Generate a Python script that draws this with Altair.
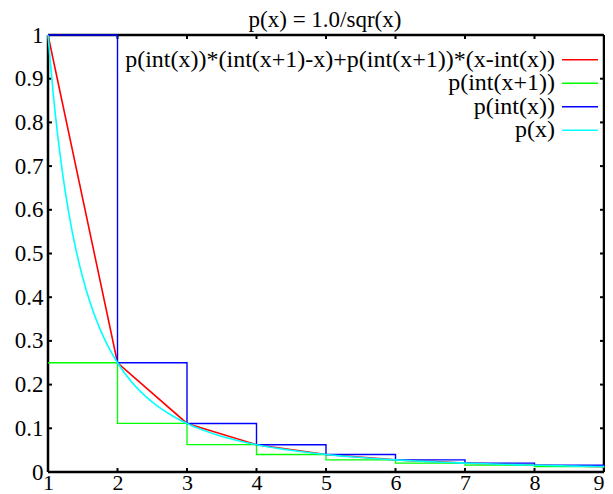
import altair as alt
import pandas as pd

# integer sample points and p(x) values
xs_int = [1, 2, 3, 4, 5, 6, 7, 8, 9]
p_int = [1.0, 0.25, 0.1111, 0.0625, 0.04, 0.0278, 0.0204, 0.0156, 0.0123]
p_int_next = [0.25, 0.1111, 0.0625, 0.04, 0.0278, 0.0204, 0.0156, 0.0123, 0.01]

# smooth curve samples
xs_curve = [1.0, 1.1, 1.2, 1.3, 1.4, 1.5, 1.6, 1.7, 1.8, 1.9, 2.0,
            2.2, 2.4, 2.6, 2.8, 3.0, 3.2, 3.4, 3.6, 3.8, 4.0,
            4.2, 4.4, 4.6, 4.8, 5.0, 5.2, 5.4, 5.6, 5.8, 6.0,
            6.2, 6.4, 6.6, 6.8, 7.0, 7.2, 7.4, 7.6, 7.8, 8.0,
            8.2, 8.4, 8.6, 8.8, 9.0]
p_curve = [1.0, 0.8264, 0.6944, 0.5917, 0.5102, 0.4444, 0.3906, 0.346, 0.3086, 0.277, 0.25,
           0.2066, 0.1736, 0.1479, 0.1276, 0.1111, 0.0977, 0.0865, 0.0772, 0.0693, 0.0625,
           0.0567, 0.0517, 0.0473, 0.0434, 0.04, 0.037, 0.0343, 0.0319, 0.0297, 0.0278,
           0.026, 0.0244, 0.023, 0.0216, 0.0204, 0.0193, 0.0183, 0.0173, 0.0164, 0.0156,
           0.0149, 0.0142, 0.0135, 0.0129, 0.0123]

x_ticks = [1, 2, 3, 4, 5, 6, 7, 8, 9]
y_ticks = [0, 0.1, 0.2, 0.3, 0.4, 0.5, 0.6, 0.7, 0.8, 0.9, 1]

legend_labels = ["p(int(x))*(int(x+1)-x)+p(int(x+1))*(x-int(x))",
                 "p(int(x+1))", "p(int(x))", "p(x)"]
legend_colors = ["#ff0000", "#00ff00", "#0000ff", "#00ffff"]

title_text = "p(x) = 1.0/sqr(x)"

FONT = "Liberation Serif"
FS = 23
W, H = 556, 437

xscale = alt.Scale(domain=[1, 9], nice=False, zero=False)
yscale = alt.Scale(domain=[0, 1], nice=False, zero=True)

df_int = pd.DataFrame({"x": xs_int, "p": p_int, "pn": p_int_next})
df_curve = pd.DataFrame({"x": xs_curve, "p": p_curve})

xax = alt.Axis(values=x_ticks, format="~g", ticks=False, domain=False, grid=False,
               labelFont=FONT, labelFontSize=22, labelColor="black", labelPadding=0,
               title=None, labelFlush=False,
               labelAlign={"condition": {"test": "datum.value >= 9", "value": "right"},
                           "value": "center"})
yax = alt.Axis(values=y_ticks, format="~g", ticks=False, domain=False, grid=False,
               labelFont=FONT, labelFontSize=FS, labelColor="black", labelPadding=5,
               title=None, labelFlush=False)

# frame (drawn first so the curves lie over it, as in gnuplot)
frame_df = pd.DataFrame({"k": [0]})
frame_layers = [
    alt.Chart(frame_df).mark_rule(color="black", strokeWidth=2.5).encode(
        x=alt.value(0), x2=alt.value(W), y=alt.value(0)),
    alt.Chart(frame_df).mark_rule(color="black", strokeWidth=2.5).encode(
        x=alt.value(0), x2=alt.value(W), y=alt.value(H)),
    alt.Chart(frame_df).mark_rule(color="black", strokeWidth=2.5).encode(
        y=alt.value(0), y2=alt.value(H), x=alt.value(0)),
    alt.Chart(frame_df).mark_rule(color="black", strokeWidth=2.5).encode(
        y=alt.value(0), y2=alt.value(H), x=alt.value(W)),
]

red = alt.Chart(df_int).mark_line(color=legend_colors[0], strokeWidth=1.6).encode(
    x=alt.X("x:Q", scale=xscale, axis=xax),
    y=alt.Y("p:Q", scale=yscale, axis=yax),
)
green = alt.Chart(df_int).mark_line(color=legend_colors[1], strokeWidth=1.3, interpolate="step-after").encode(
    x=alt.X("x:Q", scale=xscale), y=alt.Y("pn:Q", scale=yscale))
blue = alt.Chart(df_int).mark_line(color=legend_colors[2], strokeWidth=1.4, interpolate="step-after").encode(
    x=alt.X("x:Q", scale=xscale), y=alt.Y("p:Q", scale=yscale))
cyan = alt.Chart(df_curve).mark_line(color=legend_colors[3], strokeWidth=1.6, interpolate="monotone").encode(
    x=alt.X("x:Q", scale=xscale), y=alt.Y("p:Q", scale=yscale))

# inward ticks on all four sides
dxt = pd.DataFrame({"t": x_ticks})
dyt = pd.DataFrame({"t": y_ticks})
TL = 4
tick_layers = [
    alt.Chart(dxt).mark_rule(color="black", strokeWidth=2).encode(
        x=alt.X("t:Q", scale=xscale), y=alt.value(H), y2=alt.value(H - TL)),
    alt.Chart(dxt).mark_rule(color="black", strokeWidth=2).encode(
        x=alt.X("t:Q", scale=xscale), y=alt.value(0), y2=alt.value(TL)),
    alt.Chart(dyt).mark_rule(color="black", strokeWidth=2).encode(
        y=alt.Y("t:Q", scale=yscale), x=alt.value(0), x2=alt.value(TL)),
    alt.Chart(dyt).mark_rule(color="black", strokeWidth=2).encode(
        y=alt.Y("t:Q", scale=yscale), x=alt.value(W), x2=alt.value(W - TL)),
]

# title as text mark above the plot
title_layer = alt.Chart(pd.DataFrame({"t": [title_text]})).mark_text(
    align="center", baseline="alphabetic", font=FONT, fontSize=FS, color="black"
).encode(text="t:N", x=alt.value(W / 2 - 1), y=alt.value(-8))

# manual gnuplot-style legend (text left, sample line right)
legend_layers = []
for i, (lab, col) in enumerate(zip(legend_labels, legend_colors)):
    ly = 24.8 + 23.5 * i
    legend_layers.append(
        alt.Chart(pd.DataFrame({"label": [lab]})).mark_text(
            align="right", baseline="middle", font=FONT, fontSize=24, color="black"
        ).encode(text="label:N", x=alt.value(W - 49), y=alt.value(ly))
    )
    legend_layers.append(
        alt.Chart(pd.DataFrame({"label": [lab]})).mark_rule(color=col, strokeWidth=1.5).encode(
            x=alt.value(W - 42), x2=alt.value(W - 6), y=alt.value(ly))
    )

chart = alt.layer(*frame_layers, *tick_layers, red, green, blue, cyan,
                  title_layer, *legend_layers).properties(
    width=W, height=H,
    autosize=alt.AutoSizeParams(type="none"),
    padding={"left": 40, "top": 27, "right": 1, "bottom": 22},
).configure_view(stroke=None).configure(background="white")

chart.save("out.html", embed_options={"renderer": "svg", "actions": False})
